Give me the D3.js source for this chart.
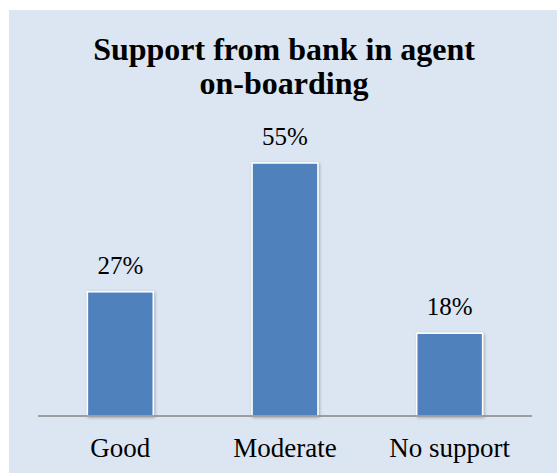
<!DOCTYPE html>
<html>
<head>
<meta charset="utf-8">
<script src="https://cdn.jsdelivr.net/npm/d3@7"></script>
<style>
  html, body { margin: 0; padding: 0; background: #ffffff; }
  svg { display: block; }
</style>
</head>
<body>
<svg id="chart" width="557" height="473"></svg>
<script>
// Chart data
const categories = ["Good", "Moderate", "No support"];
const values = [27, 55, 18];
const valueLabels = ["27%", "55%", "18%"];
const titleLines = ["Support from bank in agent", "on-boarding"];

const svg = d3.select("#chart");
const W = 557, H = 473;

// Panel background
svg.append("rect")
  .attr("x", 9).attr("y", 10)
  .attr("width", W - 9).attr("height", H - 10)
  .attr("fill", "#dce6f2");

// Soft shadow for the bars
const defs = svg.append("defs");
const f = defs.append("filter").attr("id", "shadow")
  .attr("x", "-20%").attr("y", "-20%").attr("width", "140%").attr("height", "140%");
f.append("feDropShadow")
  .attr("dx", 1).attr("dy", 1).attr("stdDeviation", 1.5)
  .attr("flood-color", "#000").attr("flood-opacity", 0.3);

const plot = { left: 38, right: 532, top: 140, bottom: 416 };

const x = d3.scaleBand()
  .domain(categories)
  .range([plot.left, plot.right])
  .paddingInner(0.6)
  .paddingOuter(0.3);

const y = d3.scaleLinear()
  .domain([0, 60])
  .range([plot.bottom, plot.top]);

const serif = "'Liberation Serif', 'Times New Roman', Times, serif";

// Title
svg.append("text")
  .attr("x", 284).attr("y", 60)
  .attr("text-anchor", "middle")
  .attr("font-family", serif)
  .attr("font-weight", "bold")
  .attr("font-size", 32)
  .selectAll("tspan")
  .data(titleLines)
  .join("tspan")
  .attr("x", 284)
  .attr("dy", (d, i) => i === 0 ? 0 : 34)
  .text(d => d);

// Bars
svg.append("g")
  .selectAll("rect")
  .data(categories)
  .join("rect")
  .attr("x", d => x(d))
  .attr("y", (d, i) => y(values[i]))
  .attr("width", x.bandwidth())
  .attr("height", (d, i) => y(0) - y(values[i]))
  .attr("fill", "#4f81bd")
  .attr("stroke", "#ffffff")
  .attr("stroke-width", 1.5)
  .attr("filter", "url(#shadow)");

// Value labels
svg.append("g")
  .selectAll("text")
  .data(categories)
  .join("text")
  .attr("x", d => x(d) + x.bandwidth() / 2)
  .attr("y", (d, i) => y(values[i]) - 18)
  .attr("text-anchor", "middle")
  .attr("font-family", serif)
  .attr("font-size", 25)
  .attr("fill", "#000")
  .text((d, i) => valueLabels[i]);

// Category axis
const axis = svg.append("g")
  .attr("transform", `translate(0,${plot.bottom})`)
  .call(d3.axisBottom(x).tickSize(0));
axis.select(".domain")
  .attr("stroke", "#868686")
  .attr("stroke-width", 1.5)
  .attr("d", `M${plot.left},0H${plot.right}`);
axis.selectAll(".tick text")
  .attr("font-family", serif)
  .attr("font-size", 27)
  .attr("fill", "#000")
  .attr("y", 41)
  .attr("dy", 0);
</script>
</body>
</html>
